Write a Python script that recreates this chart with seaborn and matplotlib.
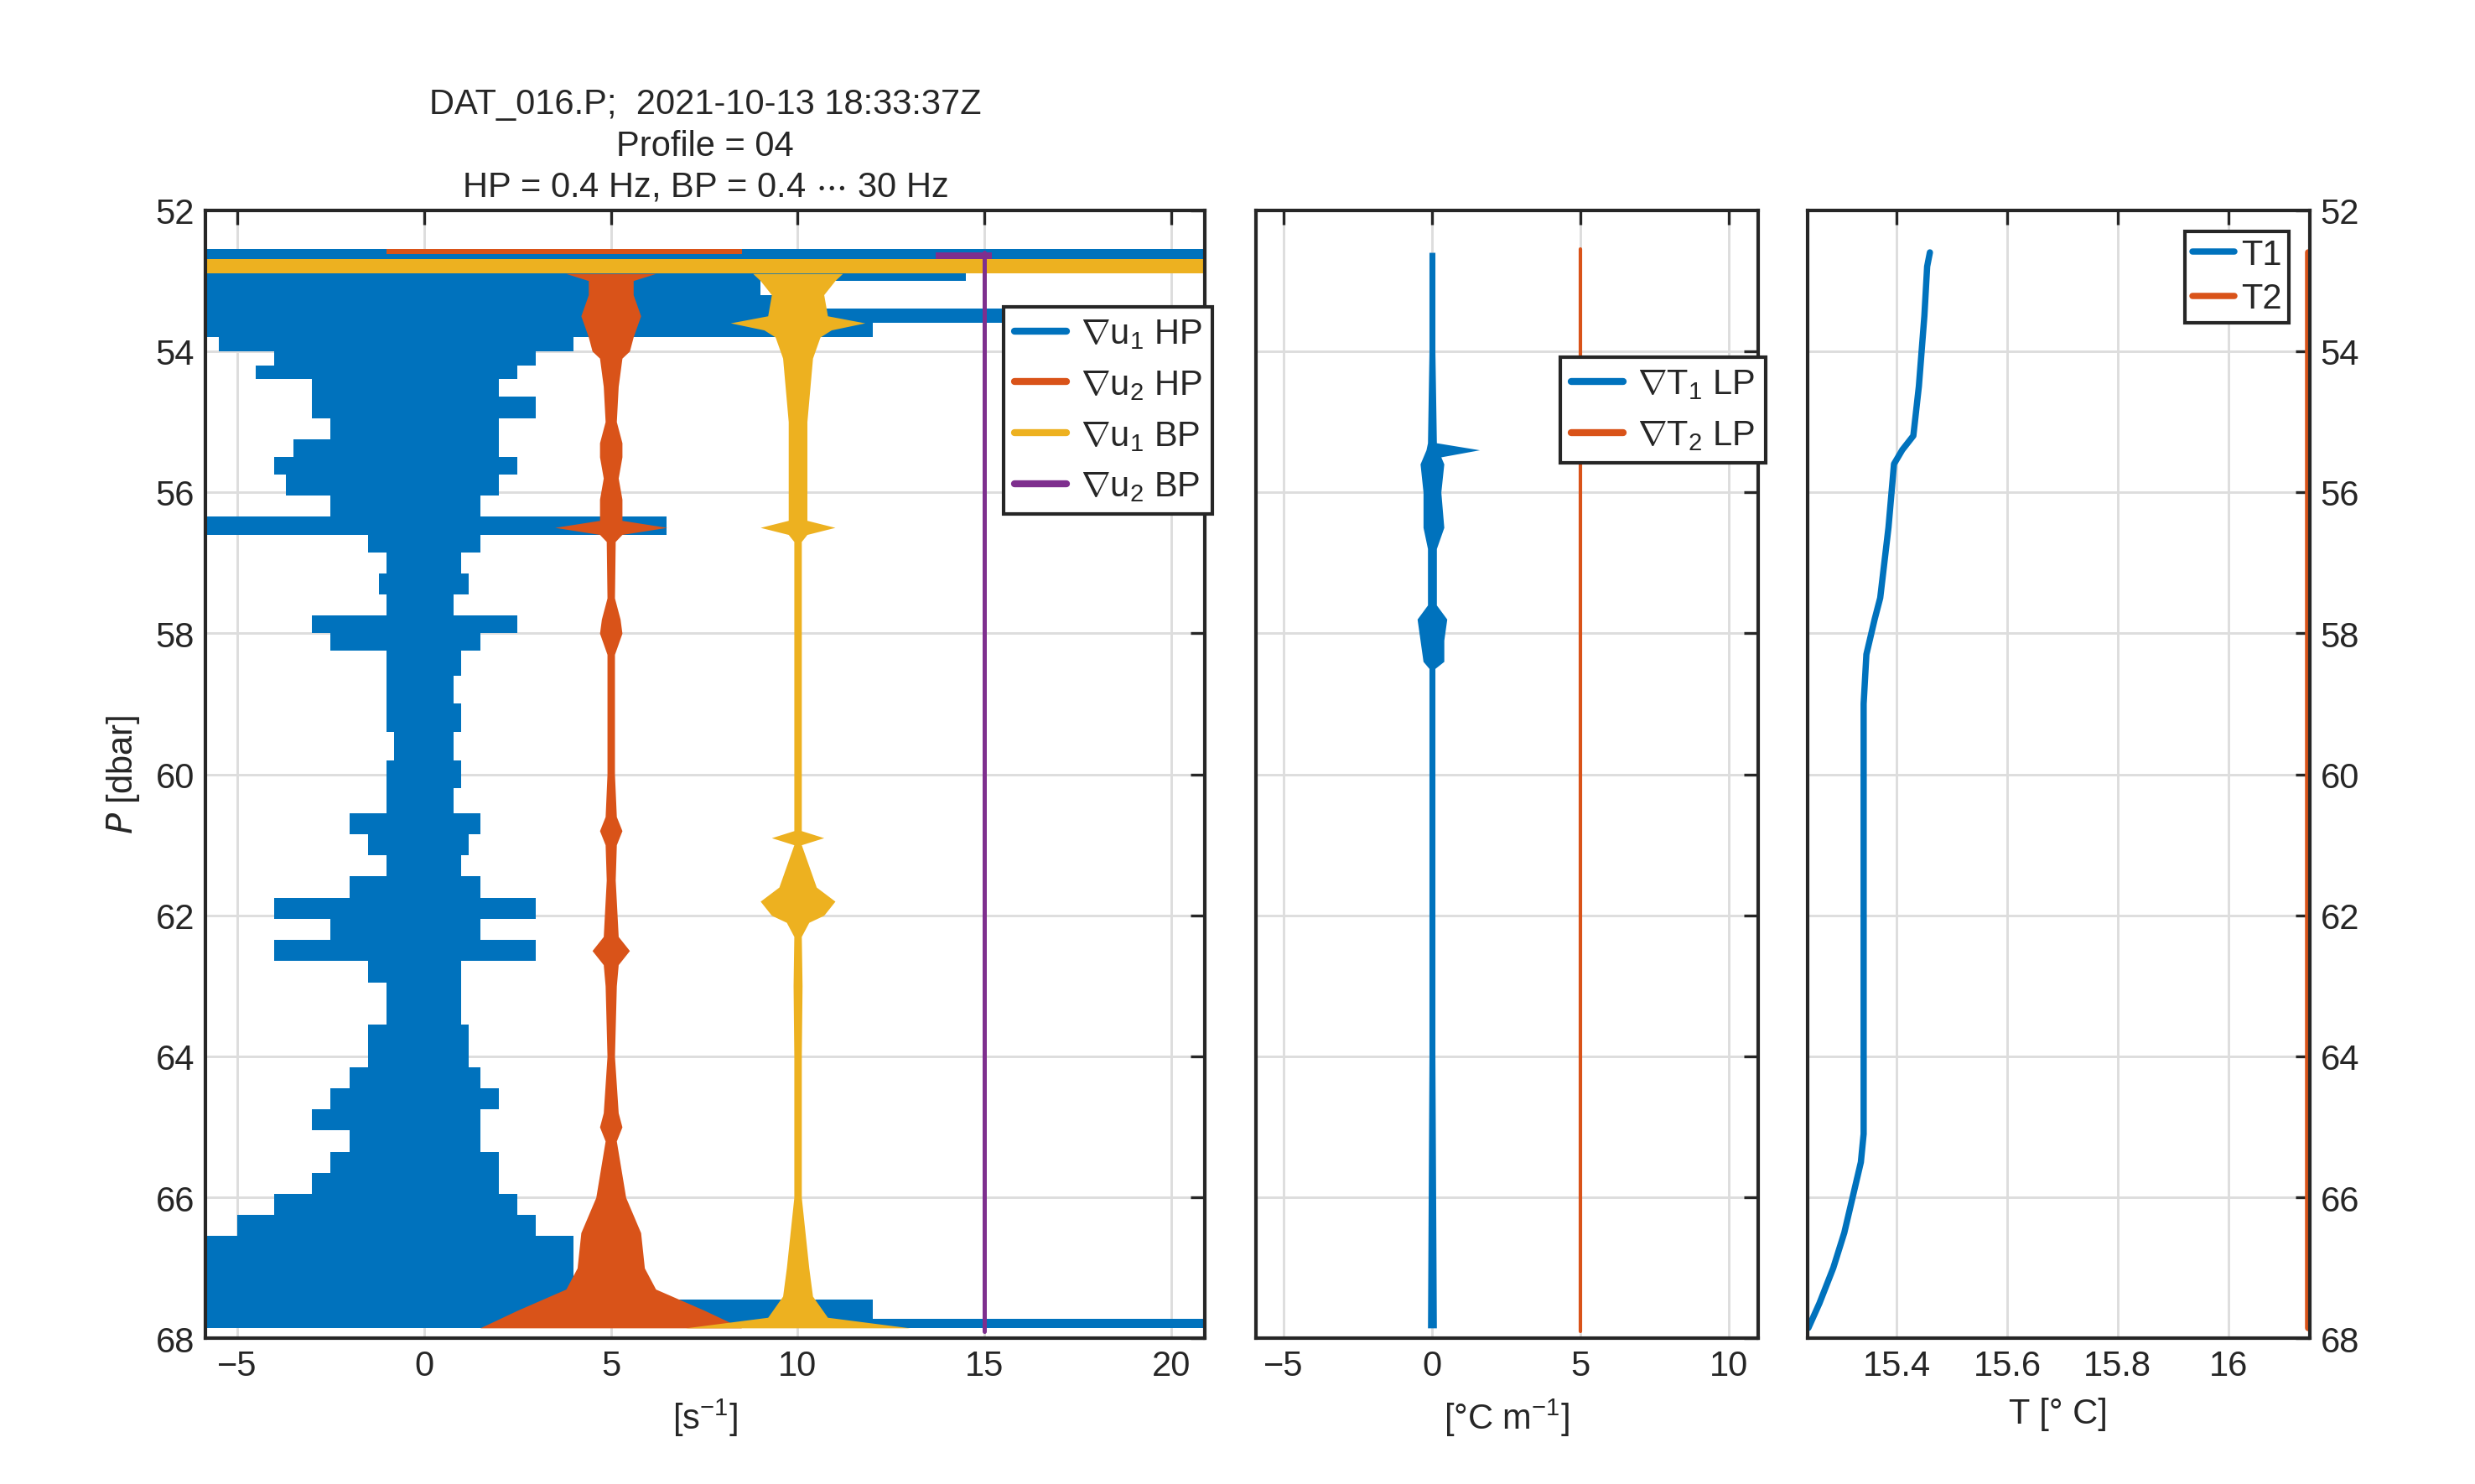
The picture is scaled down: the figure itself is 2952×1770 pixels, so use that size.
import numpy as np
import matplotlib.pyplot as plt
import seaborn as sns
from matplotlib.lines import Line2D

sns.set_theme(style="white")
plt.rcParams['font.family'] = ['Liberation Sans', 'DejaVu Sans']
plt.rcParams['mathtext.fontset'] = 'custom'
plt.rcParams['mathtext.rm'] = 'Liberation Sans'

BLUE = '#0072BD'; ORANGE = '#D95319'; YELLOW = '#EDB120'; PURPLE = '#7E2F8E'

# shear u1 HP envelope (left, right) vs pressure
p_u1 = [52.9, 53.1, 53.3, 53.5, 53.7, 53.9, 54.1, 54.3, 54.5, 54.8, 55.1, 55.4, 55.6, 55.9, 56.2, 56.5, 56.7,
        57.0, 57.3, 57.6, 57.9, 58.1, 58.4, 58.8, 59.2, 59.6, 60.0, 60.4, 60.7, 61.0, 61.3, 61.6, 61.9, 62.2,
        62.5, 62.8, 63.1, 63.4, 63.7, 64.0, 64.3, 64.6, 64.9, 65.2, 65.5, 65.8, 66.1, 66.4, 66.7, 67.0, 67.3,
        67.6, 67.85]
u1_left = [-6, -6, -6, -6, -6, -5.5, -4, -4.5, -3, -3, -2.5, -3.5, -4, -3.7, -2.5, -6, -1.5,
           -1, -1.2, -1, -3, -2.5, -1, -1, -1, -0.8, -1, -1, -2, -1.5, -1, -2, -4, -2.5,
           -4, -1.5, -1, -1, -1.5, -1.5, -2, -2.5, -3, -2, -2.5, -3, -4, -5, -6, -6, -6,
           -6, -6]
u1_right = [14.5, 9, 10, 16, 12, 4, 3, 2.5, 2, 3, 2, 2, 2.5, 2, 1.5, 6.5, 1.5,
            1, 1.2, 0.8, 2.5, 1.5, 1, 0.8, 1, 0.8, 1, 0.8, 1.5, 1.2, 1, 1.5, 3, 1.5,
            3, 1, 1, 1, 1.2, 1.2, 1.5, 2, 1.5, 1.5, 2, 2, 2.5, 3, 4, 4, 5,
            12, 21]

# u2 HP half widths around 5
p_u2 = [52.9, 53.0, 53.2, 53.5, 53.8, 54.0, 54.1, 54.5, 55.0, 55.3, 55.5, 55.8, 56.1, 56.4, 56.5, 56.6,
        56.7, 57.5, 57.8, 58.0, 58.3, 60.0, 60.6, 60.8, 61.0, 61.5, 62.3, 62.5, 62.7, 63.0, 64.0, 64.8,
        65.0, 65.2, 66.0, 66.5, 67.0, 67.3, 67.6, 67.85]
u2_half = [1.2, 0.6, 0.6, 0.8, 0.6, 0.5, 0.3, 0.2, 0.15, 0.3, 0.3, 0.2, 0.3, 0.3, 1.5, 0.3,
           0.12, 0.1, 0.25, 0.3, 0.1, 0.1, 0.15, 0.3, 0.15, 0.12, 0.2, 0.5, 0.2, 0.15, 0.1, 0.2,
           0.3, 0.15, 0.4, 0.8, 0.9, 1.2, 2.5, 3.5]

# u1 BP half widths around 10
p_b1 = [52.9, 53.0, 53.2, 53.5, 53.6, 53.7, 53.8, 54.1, 55.0, 56.4, 56.5, 56.6, 56.7, 58.0, 60.0,
        60.8, 60.9, 61.0, 61.6, 61.8, 62.0, 62.1, 62.3, 63.0, 64.0, 66.0, 67.0, 67.4, 67.7, 67.85]
b1_half = [1.2, 1.0, 0.7, 0.8, 1.8, 0.9, 0.6, 0.4, 0.25, 0.25, 1.0, 0.25, 0.1, 0.1, 0.1,
           0.1, 0.7, 0.1, 0.5, 1.0, 0.7, 0.3, 0.1, 0.12, 0.1, 0.1, 0.3, 0.4, 0.8, 3.0]

# gradT1 envelope around 0
p_t1 = [52.6, 54.0, 55.3, 55.4, 55.5, 55.6, 56.0, 56.5, 56.8, 57.6, 57.8, 58.1, 58.4, 58.5, 62.0, 64.0, 67.85]
t1_left = [-0.1, -0.1, -0.15, -0.2, -0.3, -0.4, -0.3, -0.3, -0.15, -0.15, -0.5, -0.4, -0.3, -0.1, -0.1, -0.1, -0.15]
t1_right = [0.1, 0.1, 0.15, 1.6, 0.3, 0.4, 0.3, 0.4, 0.15, 0.15, 0.5, 0.4, 0.4, 0.1, 0.1, 0.1, 0.15]

# temperature
p_T = [52.6, 52.8, 53.5, 54.5, 55.2, 55.4, 55.6, 56.5, 57.5, 57.8, 58.3, 59.0, 65.1, 65.5, 66.0, 66.5,
       67.0, 67.5, 67.85]
T1 = [15.46, 15.455, 15.45, 15.44, 15.43, 15.41, 15.395, 15.385, 15.37, 15.36, 15.345, 15.34, 15.34,
      15.335, 15.32, 15.305, 15.285, 15.26, 15.24]
p_T2 = [52.6, 67.85]
T2 = [16.145, 16.145]

fig = plt.figure(figsize=(9.843, 5.903), dpi=300)
ax1 = fig.add_axes([0.0828, 0.098, 0.4039, 0.760])
ax2 = fig.add_axes([0.5074, 0.098, 0.2026, 0.760])
ax3 = fig.add_axes([0.730, 0.098, 0.2030, 0.760])


def style(ax):
    ax.grid(True, color='#dddddd', linewidth=0.7)
    ax.set_axisbelow(True)
    for s in ax.spines.values():
        s.set_color('#262626'); s.set_linewidth(1.0)
    ax.tick_params(direction='in', length=4, width=0.8, top=True, right=True,
                   labelsize=10, colors='#262626', pad=3)
    ax.set_ylim(68, 52)


# panel 1
ax1.fill_betweenx([52.55, 52.7], -6, 21, color=BLUE, lw=0)
ax1.fill_betweenx([52.55, 52.62], -1, 8.5, color=ORANGE, lw=0)
ax1.fill_betweenx(p_u1, u1_left, u1_right, step='mid', color=BLUE, lw=0)
u2c = np.array(u2_half)
ax1.fill_betweenx(p_u2, 5 - u2c, 5 + u2c, color=ORANGE, lw=0)
ax1.fill_betweenx([52.7, 52.9], -6, 21, color=YELLOW, lw=0)
b1c = np.array(b1_half)
ax1.fill_betweenx(p_b1, 10 - b1c, 10 + b1c, color=YELLOW, lw=0)
ax1.fill_betweenx([52.6, 52.7], 13.7, 15.2, color=PURPLE, lw=0)
ax1.plot([15, 15], [52.6, 67.9], color=PURPLE, lw=1.2)
style(ax1)
ax1.set_xlim(-5.86, 20.9)
ax1.set_xticks([-5, 0, 5, 10, 15, 20])
ax1.set_yticks(range(52, 69, 2))
ax1.set_xlabel('[s$^{-1}$]', fontsize=10)
ax1.set_ylabel('$P$ [dbar]', fontsize=10)
ax1.set_title('DAT_016.P;  2021-10-13 18:33:37Z\nProfile = 04\nHP = 0.4 Hz, BP = 0.4 $\\cdots$ 30 Hz',
              fontsize=10, linespacing=1.3, pad=4)
labels1 = [r'$\nabla$u$_1$ HP', r'$\nabla$u$_2$ HP', r'$\nabla$u$_1$ BP', r'$\nabla$u$_2$ BP']
hs = [Line2D([], [], color=c, lw=2) for c in [BLUE, ORANGE, YELLOW, PURPLE]]
leg = ax1.legend(hs, labels1, loc='upper right', bbox_to_anchor=(1.025, 0.93), fontsize=10,
                 fancybox=False, framealpha=1, edgecolor='#262626', handlelength=1.5,
                 handletextpad=0.4, borderpad=0.3, labelspacing=0.5)
leg.get_frame().set_linewidth(1.0)

# panel 2
ax2.fill_betweenx(p_t1, t1_left, t1_right, color=BLUE, lw=0)
ax2.plot([5, 5], [52.55, 67.9], color=ORANGE, lw=1.0)
style(ax2)
ax2.set_xlim(-5.92, 10.97)
ax2.set_xticks([-5, 0, 5, 10])
ax2.set_yticks(range(54, 69, 2))
ax2.set_yticklabels([])
ax2.set_xlabel('[°C m$^{-1}$]', fontsize=10)
hs2 = [Line2D([], [], color=c, lw=2) for c in [BLUE, ORANGE]]
leg2 = ax2.legend(hs2, [r'$\nabla$T$_1$ LP', r'$\nabla$T$_2$ LP'], loc='upper right',
                  bbox_to_anchor=(1.05, 0.885), fontsize=10, fancybox=False, framealpha=1,
                  edgecolor='#262626', handlelength=1.5, handletextpad=0.4, borderpad=0.3,
                  labelspacing=0.5)
leg2.get_frame().set_linewidth(1.0)

# panel 3
ax3.plot(T1, p_T, color=BLUE, lw=1.8, label='T1')
ax3.plot(T2, p_T2, color=ORANGE, lw=1.8, label='T2')
style(ax3)
ax3.set_xlim(15.238, 16.148)
ax3.set_xticks([15.4, 15.6, 15.8, 16.0])
ax3.set_xticklabels(['15.4', '15.6', '15.8', '16'])
ax3.set_yticks(range(52, 69, 2))
ax3.tick_params(labelleft=False, labelright=True)
ax3.set_xlabel('T [° C]', fontsize=10)
leg3 = ax3.legend(loc='upper right', fontsize=10, fancybox=False, framealpha=1,
                  edgecolor='#262626', handlelength=1.2, handletextpad=0.2, borderpad=0.2,
                  labelspacing=0.3, borderaxespad=0.6)
leg3.get_frame().set_linewidth(1.0)

fig.savefig('out.png', dpi=300)
